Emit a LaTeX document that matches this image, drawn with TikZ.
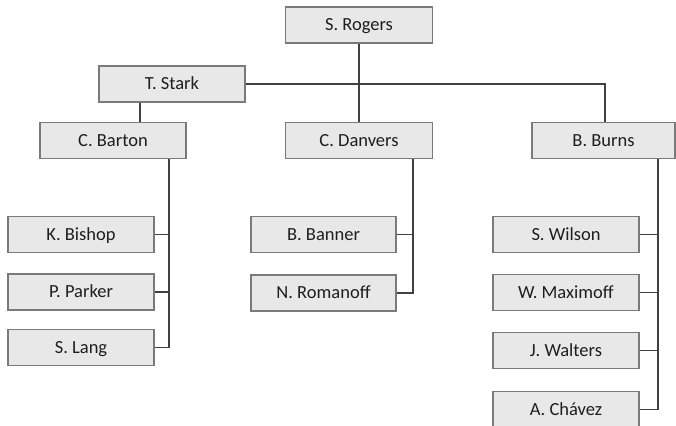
\documentclass[tikz,border=0pt]{standalone}
\usepackage{fontspec}
\setmainfont{Carlito}
\definecolor{boxfill}{HTML}{E8E8E8}
\definecolor{boxline}{HTML}{7A7A7A}
\definecolor{conn}{HTML}{404040}
\definecolor{txt}{HTML}{1E1E1E}
\begin{document}
\begin{tikzpicture}[x=1pt,y=-1pt,
  orgbox/.style={draw=boxline, line width=1.4pt, fill=boxfill, minimum width=146pt, minimum height=36pt, inner sep=0pt, font=\fontsize{18.5}{22}\selectfont, text=txt, text height=12.9pt, text depth=1pt},
  link/.style={draw=conn, line width=1.7pt}]
\useasboundingbox (0,0) rectangle (676,425);
\clip (0,0) rectangle (676,425);
\node[orgbox, minimum width=147pt] (rogers) at (359,25) {S. Rogers};
\node[orgbox] (stark) at (172,84) {T. Stark};
\node[orgbox] (barton) at (113,140.5) {C. Barton};
\node[orgbox, minimum width=147pt] (danvers) at (359,140.5) {C. Danvers};
\node[orgbox, minimum width=143pt] (burns) at (603.5,140.5) {B. Burns};
\node[orgbox] (bishop) at (81,234.5) {K. Bishop};
\node[orgbox] (parker) at (81,292) {P. Parker};
\node[orgbox] (lang) at (81,347.5) {S. Lang};
\node[orgbox, minimum width=145pt] (banner) at (323.5,234.5) {B. Banner};
\node[orgbox, minimum width=145pt] (romanoff) at (323.5,293) {N. Romanoff};
\node[orgbox] (wilson) at (566,234.5) {S. Wilson};
\node[orgbox] (maximoff) at (566,292.5) {W. Maximoff};
\node[orgbox] (walters) at (566,350.5) {J. Walters};
\node[orgbox] (chavez) at (566,409.5) {A. Chávez};
% top connectors
\draw[link] (rogers.south) -- (danvers.north);
\draw[link] (stark.east) -| ([xshift=1.5pt]burns.north);
\draw[link] ([xshift=-32pt]stark.south) -- ([xshift=-32pt]stark.south |- barton.north);
% Barton group
\coordinate (bt) at ([xshift=56pt]barton.south);
\draw[link] (bt) |- (lang.east);
\draw[link] (bishop.east) -- (bishop.east -| bt);
\draw[link] (parker.east) -- (parker.east -| bt);
% Danvers group
\coordinate (dt) at ([xshift=54pt]danvers.south);
\draw[link] (dt) |- (romanoff.east);
\draw[link] (banner.east) -- (banner.east -| dt);
% Burns group
\coordinate (ct) at ([xshift=54.5pt]burns.south);
\draw[link] (ct) |- (chavez.east);
\draw[link] (wilson.east) -- (wilson.east -| ct);
\draw[link] (maximoff.east) -- (maximoff.east -| ct);
\draw[link] (walters.east) -- (walters.east -| ct);
\end{tikzpicture}
\end{document}
